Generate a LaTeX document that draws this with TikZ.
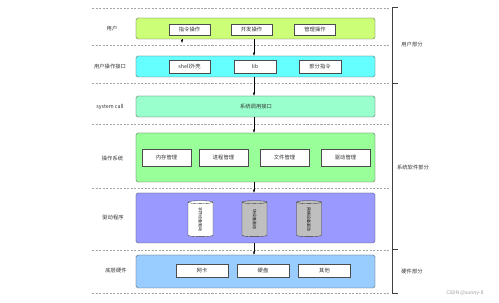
\documentclass[tikz,border=0pt]{standalone}
\usepackage{fontspec}
\setmainfont{Noto Sans CJK SC}
\usetikzlibrary{shapes.geometric,arrows.meta}

\definecolor{userc}{RGB}{204,255,119}
\definecolor{apic}{RGB}{102,255,255}
\definecolor{callc}{RGB}{153,255,204}
\definecolor{osc}{RGB}{153,255,153}
\definecolor{drvc}{RGB}{153,153,255}
\definecolor{hwc}{RGB}{153,204,255}

\begin{document}
\begin{tikzpicture}[x=0.5mm,y=-0.5mm,
    layer/.style={draw=black!70,line width=0.6pt,rounded corners=0.8mm,minimum width=119.5mm},
    item/.style={draw=black!70,fill=white,line width=0.5pt,font=\fontsize{7.5}{8}\selectfont,text=black!80},
    tag/.style={font=\fontsize{7.5}{8}\selectfont,text=black!80},
    part/.style={font=\fontsize{7.5}{8}\selectfont,text=black!80},
    disk/.style={cylinder,shape border rotate=90,aspect=0.8,draw=black!80,line width=0.5pt,
      minimum width=12.5mm,minimum height=18mm,font=\fontsize{5.6}{6}\selectfont,inner sep=0pt},
    sep/.style={black!35,densely dashed,line width=0.4pt},
    arr/.style={-{Latex[length=1.6mm,width=1.2mm]},line width=0.5pt}]
  \useasboundingbox (0,0) rectangle (499,303);

  \foreach \y in {8,45,83,124,188,250,293}
    \draw[sep] (92,\y) -- (390,\y);

  \node[layer,fill=userc,minimum height=10.5mm] (l1) at (255.5,28.5) {};
  \node[layer,fill=apic,minimum height=10.5mm] (l2) at (255.5,66.5) {};
  \node[layer,fill=callc,minimum height=10.5mm] (l3) at (255.5,106.5) {};
  \node[layer,fill=osc,minimum height=24.5mm] (l4) at (255.5,157.5) {};
  \node[layer,fill=drvc,minimum height=25mm] (l5) at (255.5,218) {};
  \node[layer,fill=hwc,minimum height=16.5mm] (l6) at (255.5,271.5) {};

  \node[tag] (t1) at (112,29) {用户};
  \node[tag] (t2) at (110,66.5) {用户操作接口};
  \node[tag] (t3) at (110,107) {system call};
  \node[tag] (t4) at (112.5,158) {操作系统};
  \node[tag] (t5) at (113,217) {驱动程序};
  \node[tag] (t6) at (116,271) {底层硬件};

  \node[item,minimum width=20.5mm,minimum height=5.5mm] (u1) at (189.5,29.5) {指令操作};
  \node[item,minimum width=20.5mm,minimum height=5.5mm] (u2) at (251.5,29.5) {开发操作};
  \node[item,minimum width=20.5mm,minimum height=5.5mm] (u3) at (315,29.5) {管理操作};

  \node[item,minimum width=20.5mm,minimum height=6.5mm] (a1) at (189.5,66.5) {shell外壳};
  \node[item,minimum width=21mm,minimum height=6.5mm] (a2) at (255,66.5) {lib};
  \node[item,minimum width=21mm,minimum height=6.5mm] (a3) at (320,66.5) {部分指令};

  \node[tag] (c1) at (256,107) {系统调用接口};

  \node[item,minimum width=24.5mm,minimum height=8.5mm] (o1) at (166.5,157.5) {内存管理};
  \node[item,minimum width=24.5mm,minimum height=8.5mm] (o2) at (223.5,157.5) {进程管理};
  \node[item,minimum width=24.5mm,minimum height=8.5mm] (o3) at (284.5,157.5) {文件管理};
  \node[item,minimum width=24.5mm,minimum height=8.5mm] (o4) at (345.5,157.5) {驱动管理};

  \node[disk,fill=white] (d1) at (200.5,219.5) {\rotatebox{-90}{字符设备驱动}};
  \node[disk,fill=black!25] (d2) at (254.5,219.5) {\rotatebox{-90}{块设备驱动}};
  \node[disk,fill=black!25] (d3) at (309,219.5) {\rotatebox{-90}{网络设备驱动}};

  \node[item,minimum width=26mm,minimum height=6.5mm] (h1) at (202,270.5) {网卡};
  \node[item,minimum width=26mm,minimum height=6.5mm] (h2) at (263,270.5) {硬盘};
  \node[item,minimum width=26mm,minimum height=6.5mm] (h3) at (324.5,270.5) {其他};

  \coordinate (stub) at (182,43);
  \draw[arr] (l1.south -| stub) -- (stub);
  \draw[arr] ([xshift=-0.75mm]l1.south) -- ([xshift=-0.75mm]l2.north);
  \draw[arr] ([xshift=-0.75mm]l2.south) -- ([xshift=-0.75mm]l3.north);
  \draw[arr] ([xshift=-0.75mm]l3.south) -- ([xshift=-0.75mm]l4.north);
  \draw[arr] ([xshift=-0.75mm]l4.south) -- ([xshift=-0.75mm]l5.north);
  \draw[arr] ([xshift=-0.75mm]l5.south) -- ([xshift=-0.75mm]l6.north);

  \coordinate (b0) at (392,7);
  \coordinate (b1) at (392,83);
  \coordinate (b2) at (392,249);
  \coordinate (b3) at (392,293);
  \draw[black!75,line width=0.6pt] ([xshift=3mm]b0) -- (b0) -- (b3) -- ([xshift=3mm]b3);
  \draw[black!75,line width=0.6pt] (b1) -- ([xshift=3mm]b1);
  \draw[black!75,line width=0.6pt] (b2) -- ([xshift=3mm]b2);

  \node[part] (p1) at (412,45) {用户部分};
  \node[part] (p2) at (413,167) {系统软件部分};
  \node[part] (p3) at (412,271) {硬件部分};

  \node[font=\fontsize{7}{8}\selectfont,text=black!40] (mark) at (465,293) {CSDN @sunny-Il};
\end{tikzpicture}
\end{document}
